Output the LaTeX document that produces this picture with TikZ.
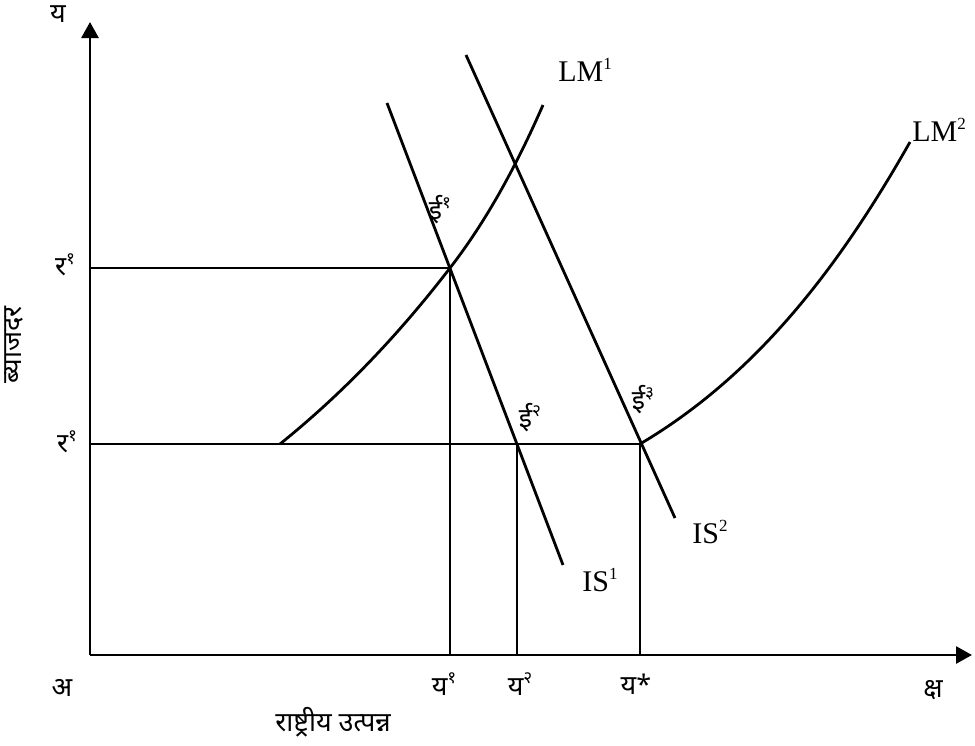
\documentclass[tikz,border=0pt]{standalone}
\usepackage{fontspec}
\setmainfont{Liberation Serif}
\newfontfamily\deva[Script=Devanagari]{Noto Sans}
\usetikzlibrary{arrows.meta}

\newcommand{\upnum}[1]{\raisebox{0.42em}{\fontsize{17}{17}\selectfont #1}}

\begin{document}
\begin{tikzpicture}[
    x=1pt, y=-1pt,
    line width=2.8pt,
    axis/.style={-{Triangle[length=16pt,width=17pt]}},
    dtext/.style={font=\deva\fontsize{27}{30}\selectfont, inner sep=0pt},
    ctext/.style={font=\fontsize{30}{34}\selectfont, inner sep=0pt}
  ]
    \useasboundingbox (0,0) rectangle (975,745);

    % axes
    \coordinate (O) at (90,655);
    \coordinate (ytop) at (90,22);
    \coordinate (xend) at (972,655);
    \draw[axis] (O) -- (ytop);
    \draw[axis] (O) -- (xend);

    % equilibrium points
    \coordinate (E1) at (450,268);
    \coordinate (E2) at (517,444);
    \coordinate (E3) at (640,444);
    \coordinate (r1a) at (90,268);
    \coordinate (r1b) at (90,444);
    \coordinate (y1) at (450,655);
    \coordinate (y2) at (517,655);
    \coordinate (ys) at (640,655);

    \draw (r1a) -- (E1) -- (y1);
    \draw (r1b) -- (E3) -- (ys);
    \draw (E2) -- (y2);

    % IS curves
    \coordinate (is1top) at (387,103);
    \coordinate (is1bot) at (563,565);
    \coordinate (is2top) at (466,55);
    \coordinate (is2bot) at (675,518);
    \draw (is1top) -- (is1bot);
    \draw (is2top) -- (is2bot);

    % LM curves
    \coordinate (lm1a) at (280,444);
    \coordinate (lm1b) at (543,105);
    \coordinate (lm2b) at (910,142);
    \draw (lm1a) .. controls (337,398) and (393,342) .. (E1)
                 .. controls (481,228) and (512,176) .. (lm1b);
    \draw (E3) .. controls (760,373) and (842,262) .. (lm2b);

    % labels
    \node[dtext] (ylab) at (58,14) {य};
    \node[dtext] (olab) at (62,688) {अ};
    \node[dtext] (xlab) at (933,690) {क्ष};
    \node[dtext] (r1up) at (65,265) {र\upnum{१}};
    \node[dtext] (r1lo) at (67,442) {र\upnum{१}};
    \node[dtext, rotate=90] (rate) at (14,345) {ब्याजदर};
    \node[dtext] (income) at (333,722) {राष्ट्रीय उत्पन्न};
    \node[dtext] (y1lab) at (444,684) {य\upnum{१}};
    \node[dtext] (y2lab) at (520,684) {य\upnum{२}};
    \node[dtext] (yslab) at (636,684) {य*};
    \node[dtext] (e1lab) at (440,210) {ई\upnum{१}};
    \node[dtext] (e2lab) at (530,418) {ई\upnum{२}};
    \node[dtext] (e3lab) at (643,400) {ई\upnum{३}};

    \node[ctext] (is1lab) at (600,580) {IS\upnum{1}};
    \node[ctext] (is2lab) at (710,532) {IS\upnum{2}};
    \node[ctext] (lm1lab) at (585,70) {LM\upnum{1}};
    \node[ctext, anchor=west] (lm2lab) at (911,130) {LM\upnum{2}};
\end{tikzpicture}
\end{document}
